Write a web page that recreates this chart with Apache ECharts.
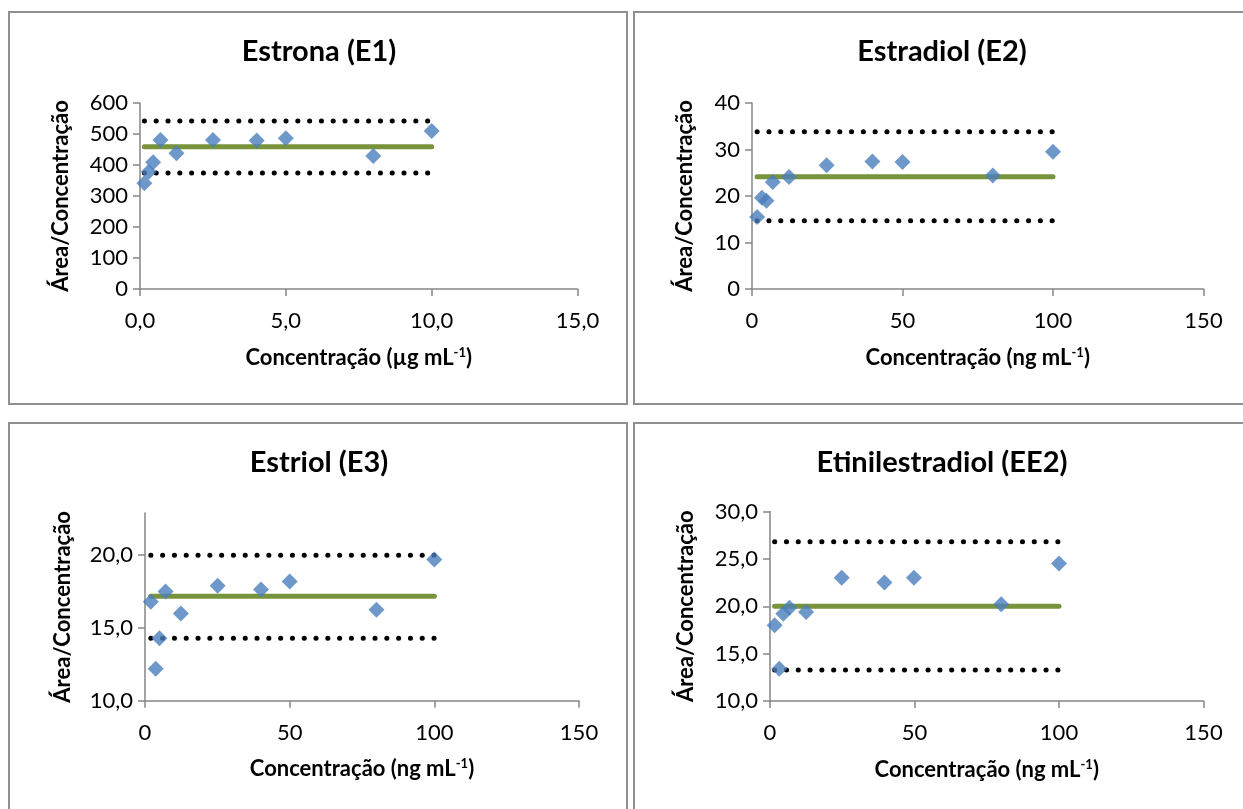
<!DOCTYPE html>
<html>
<head>
<meta charset="utf-8">
<script src="https://cdn.jsdelivr.net/npm/echarts@6/dist/echarts.min.js"></script>
<style>
  html, body { margin: 0; padding: 0; background: #fff; }
  #chart { width: 1243px; height: 809px; }
</style>
</head>
<body>
<div id="chart"></div>
<script>
// ---- Estrona (E1) ----
const e1Conc  = [0.15, 0.3, 0.45, 0.7, 1.25, 2.5, 4.0, 5.0, 8.0, 10.0];
const e1Ratio = [341, 378, 409, 481, 438, 481, 479, 486, 429, 510];
const e1Mean = 459, e1Upper = 542, e1Lower = 374;
const e1XTicks = [0, 5, 10, 15];
const e1YTicks = [0, 100, 200, 300, 400, 500, 600];

// ---- Estradiol (E2) ----
const e2Conc  = [1.7, 3.3, 4.8, 6.9, 12.3, 24.8, 40, 50, 80, 100];
const e2Ratio = [15.5, 19.6, 19.0, 23.0, 24.1, 26.6, 27.4, 27.3, 24.4, 29.5];
const e2Mean = 24.15, e2Upper = 33.8, e2Lower = 14.7;
const e2XTicks = [0, 50, 100, 150];
const e2YTicks = [0, 10, 20, 30, 40];

// ---- Estriol (E3) ----
const e3Conc  = [2.0, 3.7, 5.0, 7.1, 12.4, 25.1, 40.1, 50, 80, 100];
const e3Ratio = [16.8, 12.2, 14.3, 17.5, 16.0, 17.9, 17.65, 18.2, 16.25, 19.7];
const e3Mean = 17.17, e3Upper = 20.0, e3Lower = 14.3;
const e3XTicks = [0, 50, 100, 150];
const e3YTicks = [10, 15, 20];
const e3YTop = 22.9;

// ---- Etinilestradiol (EE2) ----
const ee2Conc  = [1.6, 3.2, 4.6, 6.7, 12.5, 24.8, 39.6, 49.8, 80, 100];
const ee2Ratio = [18.0, 13.4, 19.2, 19.85, 19.4, 23.0, 22.5, 23.0, 20.2, 24.5];
const ee2Mean = 20.0, ee2Upper = 26.8, ee2Lower = 13.27;
const ee2XTicks = [0, 50, 100, 150];
const ee2YTicks = [10, 15, 20, 25, 30];

const FONT = 'Lato, "Open Sans", sans-serif';
const AXIS_COLOR = '#868686';

const panels = [
  { title: 'Estrona (E1)', conc: e1Conc, ratio: e1Ratio, mean: e1Mean, upper: e1Upper, lower: e1Lower,
    xTicks: e1XTicks, yTicks: e1YTicks, yTop: null, unit: 'µg', xDec: 1, yDec: 0,
    grid: { left: 140, top: 103, width: 437.5, height: 186 }, titleX: 319, titleY: 52, yNameGap: 68 },
  { title: 'Estradiol (E2)', conc: e2Conc, ratio: e2Ratio, mean: e2Mean, upper: e2Upper, lower: e2Lower,
    xTicks: e2XTicks, yTicks: e2YTicks, yTop: null, unit: 'ng', xDec: 0, yDec: 0,
    grid: { left: 752, top: 103, width: 451.5, height: 186 }, titleX: 942, titleY: 52, yNameGap: 56 },
  { title: 'Estriol (E3)', conc: e3Conc, ratio: e3Ratio, mean: e3Mean, upper: e3Upper, lower: e3Lower,
    xTicks: e3XTicks, yTicks: e3YTicks, yTop: e3YTop, unit: 'ng', xDec: 0, yDec: 1,
    grid: { left: 145, top: 513, width: 434, height: 187.7 }, titleX: 319, titleY: 463, yNameGap: 71 },
  { title: 'Etinilestradiol (EE2)', conc: ee2Conc, ratio: ee2Ratio, mean: ee2Mean, upper: ee2Upper, lower: ee2Lower,
    xTicks: ee2XTicks, yTicks: ee2YTicks, yTop: null, unit: 'ng', xDec: 0, yDec: 1,
    grid: { left: 770, top: 511.5, width: 433.5, height: 189.5 }, titleX: 942, titleY: 463, yNameGap: 73 }
];

const fmt = (dec) => (v) => v.toFixed(dec).replace('.', ',');

const frame = (x, y, w, h) => ({
  type: 'rect', silent: true, shape: { x, y, width: w, height: h },
  style: { fill: 'none', stroke: '#8f8f8f', lineWidth: 2 }
});

const option = {
  animation: false,
  backgroundColor: '#fff',
  title: [], grid: [], xAxis: [], yAxis: [], series: [],
  graphic: [frame(9, 12, 618, 392), frame(634, 12, 640, 392), frame(9, 423, 618, 420), frame(634, 423, 640, 420)]
};

panels.forEach((p, i) => {
  const g = p.grid;
  option.title.push({
    text: p.title,
    left: p.titleX,
    top: p.titleY - 18,
    textAlign: 'center',
    padding: 0,
    textStyle: { fontFamily: FONT, fontWeight: 'bold', fontSize: 29, color: '#000', lineHeight: 36 }
  });
  option.grid.push({ left: g.left, top: g.top, width: g.width, height: g.height, containLabel: false });

  const xMin = p.xTicks[0], xMax = p.xTicks[p.xTicks.length - 1];
  const yMin = p.yTicks[0], yMax = p.yTop != null ? p.yTop : p.yTicks[p.yTicks.length - 1];

  option.xAxis.push({
    gridIndex: i, type: 'value', min: xMin, max: xMax,
    interval: p.xTicks[1] - p.xTicks[0],
    axisLine: { show: true, onZero: false, lineStyle: { color: AXIS_COLOR, width: 1.5 } },
    axisTick: { show: true, length: 7, lineStyle: { color: AXIS_COLOR, width: 1.5 } },
    splitLine: { show: false },
    axisLabel: { fontFamily: FONT, fontSize: 22, color: '#000', margin: 21, formatter: fmt(p.xDec) },
    name: 'Concentração (' + p.unit + ' mL{sup|-1})',
    nameLocation: 'middle', nameGap: 57,
    nameTextStyle: {
      fontFamily: FONT, fontWeight: 'bold', fontSize: 22, color: '#000',
      rich: { sup: { fontFamily: FONT, fontWeight: 'bold', fontSize: 13, color: '#000', verticalAlign: 'top', lineHeight: 23 } }
    }
  });

  option.yAxis.push({
    gridIndex: i, type: 'value', min: yMin, max: yMax,
    interval: p.yTicks[1] - p.yTicks[0],
    axisLine: { show: true, onZero: false, lineStyle: { color: AXIS_COLOR, width: 1.5 } },
    axisTick: { show: true, length: 7, lineStyle: { color: AXIS_COLOR, width: 1.5 }, customValues: p.yTicks },
    splitLine: { show: false },
    axisLabel: { fontFamily: FONT, fontSize: 22, color: '#000', margin: 12, formatter: fmt(p.yDec), customValues: p.yTicks },
    name: 'Área/Concentração',
    nameLocation: 'middle', nameGap: p.yNameGap, nameRotate: 90,
    nameTextStyle: { fontFamily: FONT, fontWeight: 'bold', fontSize: 22, color: '#000' }
  });

  const x0 = p.conc[0], x1 = p.conc[p.conc.length - 1];
  const dotted = { color: '#000', width: 5, type: [0.1, 11.7], cap: 'round' };

  option.series.push(
    { type: 'line', xAxisIndex: i, yAxisIndex: i, z: 2, symbol: 'none', silent: true,
      data: [[x0, p.upper], [x1, p.upper]], lineStyle: dotted },
    { type: 'line', xAxisIndex: i, yAxisIndex: i, z: 2, symbol: 'none', silent: true,
      data: [[x0, p.lower], [x1, p.lower]], lineStyle: dotted },
    { type: 'line', xAxisIndex: i, yAxisIndex: i, z: 3, symbol: 'none', silent: true,
      data: [[x0, p.mean], [x1, p.mean]], lineStyle: { color: '#77933C', width: 5, cap: 'round' } },
    { type: 'scatter', xAxisIndex: i, yAxisIndex: i, z: 4, symbol: 'diamond', symbolSize: 16,
      data: p.conc.map((c, k) => [c, p.ratio[k]]),
      itemStyle: { color: '#4A7EBB' } }
  );
});

const chart = echarts.init(document.getElementById('chart'), null, { renderer: 'canvas' });
chart.setOption(option);
</script>
</body>
</html>
